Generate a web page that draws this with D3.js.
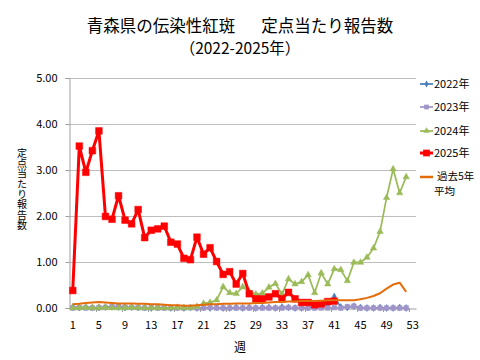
<!DOCTYPE html>
<html><head><meta charset="utf-8">
<script src="https://cdn.jsdelivr.net/npm/d3@7"></script>
<style>
body{margin:0;background:#fff;}
text{font-family:"Noto Sans CJK JP","Noto Sans",sans-serif;fill:#000;}
</style></head>
<body><svg id="c" width="480" height="360"></svg>
<script>
const weeks = [1,2,3,4,5,6,7,8,9,10,11,12,13,14,15,16,17,18,19,20,21,22,23,24,25,26,27,28,29,30,31,32,33,34,35,36,37,38,39,40,41,42,43,44,45,46,47,48,49,50,51,52,53];
const yTicks = [0,1,2,3,4,5];
const seriesNames = ["2022年","2023年","2024年","2025年","過去5年平均"];
const v2022 = [0.02,0.01,0.02,0.01,0.01,0.02,0.03,0.02,0.01,0.02,0.01,0.01,0.00,0.01,0.01,0.00,0.01,0.00,0.01,0.00,0.01,0.00,0.01,0.00,0.00,0.01,0.00,0.01,0.00,0.01,0.01,0.00,0.02,0.01,0.00,0.00,0.01,0.02,0.03,0.06,0.25,0.02,0.01,0.04,0.01,0.00,0.00,0.01,0.00,0.00,0.01,0.00];
const v2023 = [0.00,0.01,0.00,0.00,0.01,0.01,0.03,0.04,0.02,0.01,0.01,0.00,0.01,0.00,0.00,0.00,0.00,0.00,0.01,0.00,0.00,0.01,0.00,0.00,0.00,0.00,0.00,0.00,0.00,0.00,0.00,0.00,0.00,0.01,0.00,0.00,0.00,0.00,0.00,0.00,0.01,0.00,0.03,0.04,0.00,0.00,0.00,0.00,0.00,0.00,0.00,0.00];
const v2024 = [0.00,0.00,0.01,0.00,0.00,0.01,0.00,0.00,0.00,0.01,0.00,0.00,0.00,0.00,0.00,0.00,0.01,0.00,0.00,0.03,0.10,0.12,0.17,0.46,0.33,0.31,0.46,0.35,0.30,0.32,0.45,0.53,0.30,0.63,0.52,0.57,0.72,0.33,0.76,0.52,0.85,0.83,0.59,0.99,0.99,1.10,1.30,1.66,2.40,3.02,2.50,2.85];
const v2025 = [0.38,3.52,2.95,3.42,3.85,1.99,1.93,2.44,1.91,1.83,2.14,1.53,1.69,1.72,1.78,1.43,1.39,1.08,1.05,1.54,1.17,1.31,1.01,0.73,0.79,0.52,0.75,0.31,0.20,0.20,0.24,0.31,0.20,0.34,0.20,0.12,0.12,0.07,0.09,0.14,0.15];
const vAvg = [0.08,0.09,0.11,0.12,0.13,0.12,0.11,0.10,0.10,0.10,0.09,0.09,0.08,0.08,0.07,0.06,0.06,0.05,0.05,0.06,0.07,0.08,0.08,0.09,0.09,0.10,0.10,0.10,0.11,0.11,0.12,0.13,0.13,0.14,0.14,0.15,0.15,0.15,0.16,0.17,0.17,0.17,0.17,0.17,0.19,0.22,0.26,0.32,0.42,0.51,0.55,0.35];

const svg = d3.select("#c");
const x = d3.scaleBand().domain(weeks).range([69.5, 416]);
const y = d3.scaleLinear().domain([0,5]).range([308,78]);
const cx = w => x(w) + x.bandwidth()/2;

// title
const t = svg.append("text").attr("x",240).attr("y",32).attr("text-anchor","middle").attr("font-size",16.5);
t.append("tspan").text("青森県の伝染性紅斑");
t.append("tspan").attr("dx",26).text("定点当たり報告数");
svg.append("text").attr("x",240).attr("y",54).attr("text-anchor","middle").attr("font-size",15.5).text("（2022-2025年）");

// grid
svg.append("g").selectAll("line").data(yTicks.slice(1)).join("line")
  .attr("x1",69.5).attr("x2",416).attr("y1",d=>Math.round(y(d))+0.5).attr("y2",d=>Math.round(y(d))+0.5)
  .attr("stroke","#bdbdbd").attr("stroke-width",1);

// y axis
const ya = svg.append("g").attr("transform","translate(69.5,0)")
  .call(d3.axisLeft(y).tickValues(yTicks).tickFormat(d3.format(".2f")).tickSize(4).tickPadding(8));
ya.select(".domain").attr("stroke","#9e9e9e");
ya.selectAll(".tick line").attr("stroke","#9e9e9e");
ya.selectAll("text").attr("font-size",11).attr("font-family","'Liberation Sans',sans-serif");

// x axis
const xa = svg.append("g").attr("transform","translate(0,308.5)")
  .call(d3.axisBottom(x).tickValues(weeks.filter(w=>(w-1)%4===0)).tickSize(0).tickPadding(13));
xa.select(".domain").attr("stroke","#9e9e9e");
xa.selectAll("text").attr("font-size",11).attr("font-family","'Liberation Sans',sans-serif");
svg.append("g").selectAll("line").data(weeks.filter(w=>w%4===0)).join("line")
  .attr("x1",w=>Math.round(x(w)+x.bandwidth())+0.5).attr("x2",w=>Math.round(x(w)+x.bandwidth())+0.5)
  .attr("y1",308).attr("y2",312).attr("stroke","#9e9e9e");

// axis titles
svg.append("text").attr("x",240).attr("y",352).attr("text-anchor","middle").attr("font-size",12).text("週");
svg.append("text").attr("x",22).attr("y",148).attr("font-size",10)
  .style("writing-mode","vertical-rl").style("text-orientation","upright")
  .attr("letter-spacing",0.3).text("定点当たり報告数");

const line = d3.line().x((d,i)=>cx(weeks[i])).y(d=>y(d));
const plot = svg.append("g");

function drawSeries(vals, color, width, marker, msize){
  plot.append("path").datum(vals).attr("d",line).attr("fill","none").attr("stroke",color)
    .attr("stroke-width",width).attr("stroke-linejoin","round");
  if(marker){
    plot.append("g").selectAll("path").data(vals).join("path")
      .attr("transform",(d,i)=>`translate(${cx(weeks[i])},${y(d)})`)
      .attr("d",d3.symbol().type(marker).size(msize)).attr("fill",color).attr("stroke",color).attr("stroke-width",0.5);
  }
}
const colors = ["#4A7EBB","#A194C9","#9BBB59","#FF0000","#E46C0A"];
drawSeries(v2022, colors[0], 1.5, d3.symbolDiamond, 14);
drawSeries(v2023, colors[1], 1.75, d3.symbolSquare, 22);
drawSeries(v2024, colors[2], 1.75, d3.symbolTriangle, 18);
drawSeries(v2025, colors[3], 3, d3.symbolSquare, 45);
drawSeries(vAvg, colors[4], 2, null, 0);

// legend
const legY = [84,107,131,153,177];
const lg = svg.append("g");
seriesNames.forEach((n,i)=>{
  const yy = legY[i];
  lg.append("line").attr("x1",420).attr("x2",433).attr("y1",yy).attr("y2",yy)
    .attr("stroke",colors[i]).attr("stroke-width",i===3?3:(i===4?2.5:1.75));
  const sym = [d3.symbolDiamond,d3.symbolSquare,d3.symbolTriangle,d3.symbolSquare,null][i];
  if(sym) lg.append("path").attr("transform",`translate(426.5,${yy})`)
    .attr("d",d3.symbol().type(sym).size([14,22,18,45][i])).attr("fill",colors[i]);
  if(i<4){
    lg.append("text").attr("x",434).attr("y",yy+4).attr("font-size",11).text(n);
  } else {
    lg.append("text").attr("font-size",10.5).attr("x",437).attr("y",yy+3).text(n.slice(0,4));
    lg.append("text").attr("font-size",10.5).attr("x",434).attr("y",yy+18).text(n.slice(4));
  }
});
</script></body></html>
